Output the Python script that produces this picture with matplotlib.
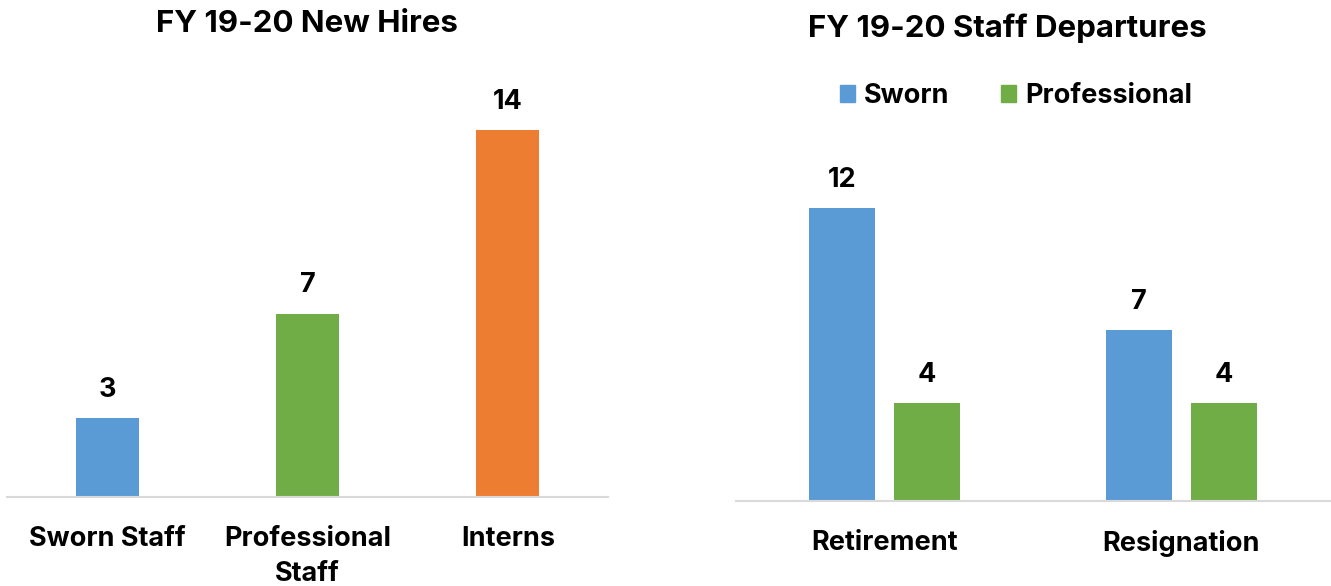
import matplotlib
matplotlib.use("Agg")
import matplotlib.pyplot as plt
from matplotlib.patches import Patch
import numpy as np

plt.rcParams['font.family'] = ['Inter', 'DejaVu Sans']
plt.rcParams['font.weight'] = 'bold'

# Data
hire_categories = ["Sworn Staff", "Professional\nStaff", "Interns"]
hire_values = [3, 7, 14]
hire_colors = ["#5b9bd5", "#70ad47", "#ed7d31"]

dep_categories = ["Retirement", "Resignation"]
dep_sworn = [12, 7]
dep_professional = [4, 4]
series_names = ["Sworn", "Professional"]
series_colors = ["#5b9bd5", "#70ad47"]

W, H = 1331, 586
fig = plt.figure(figsize=(W / 100, H / 100), dpi=100)

def px_axes(left, right, base, top):
    return fig.add_axes([left / W, (H - base) / H, (right - left) / W, (base - top) / H])

fs = 19.5
tfs = 22.5

# Left chart
ax1 = px_axes(7, 608, 497, 497 - 16 * 26.2)
x1 = np.arange(len(hire_categories))
bars1 = ax1.bar(x1, hire_values, width=0.315, color=hire_colors)
ax1.set_xlim(-0.5, 2.5)
ax1.set_ylim(0, 16)
ax1.bar_label(bars1, padding=11, fontsize=fs, fontweight='bold')
ax1.set_xticks(x1)
ax1.set_xticklabels(hire_categories, fontsize=fs, fontweight='bold', linespacing=1.45)
ax1.tick_params(axis='x', length=0, pad=21)
ax1.set_yticks([])
for s in ['top', 'right', 'left']:
    ax1.spines[s].set_visible(False)
ax1.spines['bottom'].set_color('#d9d9d9')
ax1.spines['bottom'].set_linewidth(1.5)

fig.text(307 / W, 1 - 23.5 / H, "FY 19-20 New Hires", ha='center', va='center',
         fontsize=tfs, fontweight='bold')

# Right chart
ax2 = px_axes(736, 1330, 501, 501 - 16 * 24.4)
x2 = np.arange(len(dep_categories))
bw = 0.222
off = 0.143
b_s = ax2.bar(x2 - off, dep_sworn, width=bw, color=series_colors[0], label=series_names[0])
b_p = ax2.bar(x2 + off, dep_professional, width=bw, color=series_colors[1], label=series_names[1])
ax2.set_xlim(-0.5, 1.5)
ax2.set_ylim(0, 16)
ax2.bar_label(b_s, padding=11, fontsize=fs, fontweight='bold')
ax2.bar_label(b_p, padding=11, fontsize=fs, fontweight='bold')
ax2.set_xticks(x2)
ax2.set_xticklabels(dep_categories, fontsize=fs, fontweight='bold')
ax2.tick_params(axis='x', length=0, pad=21)
ax2.set_yticks([])
for s in ['top', 'right', 'left']:
    ax2.spines[s].set_visible(False)
ax2.spines['bottom'].set_color('#d9d9d9')
ax2.spines['bottom'].set_linewidth(1.5)

fig.text(1007 / W, 1 - 28 / H, "FY 19-20 Staff Departures", ha='center', va='center',
         fontsize=tfs, fontweight='bold')

handles = [Patch(color=c) for c in series_colors]
fig.legend(handles, series_names, loc='center', bbox_to_anchor=(1016 / W, 1 - 96 / H),
           ncol=2, frameon=False, prop={'size': fs, 'weight': 'bold'},
           handlelength=0.55, handleheight=0.55, handletextpad=0.35, columnspacing=1.9)

fig.savefig("out.png", dpi=100)
